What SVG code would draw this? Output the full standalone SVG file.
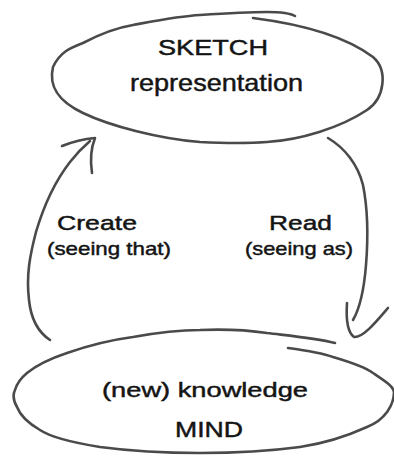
<svg xmlns="http://www.w3.org/2000/svg" width="394" height="456" viewBox="0 0 394 456">
<style>
.stroke{fill:none;stroke:#4a4a4a;stroke-width:2.6;stroke-linecap:round;stroke-linejoin:round}
.t{font-family:"Liberation Sans",Arial,sans-serif;fill:#141414;stroke:#141414;stroke-width:0.45;text-anchor:start}
</style>
<rect width="394" height="456" fill="#ffffff"/>
<g id="sketch">
<path class="stroke" d="M253,18 C300,24 345,36 373,57 C388,70 385,98 367,110 C340,128 300,140 267,142 C240,144 220,143 200,142 C160,139 110,126 83,113 C60,102 48,88 53,67 C60,52 70,48 83,43 C100,34 115,28 133,25 C160,20 180,16 200,15 C230,13 250,12 267,12 C280,12 290,13 295,16"/>
<text class="t" x="158" y="55" font-size="22.5" textLength="110" lengthAdjust="spacingAndGlyphs">SKETCH</text>
<text class="t" x="130" y="91" font-size="24" textLength="173" lengthAdjust="spacingAndGlyphs">representation</text>
</g>
<g id="mind">
<path class="stroke" d="M288,348 C310,351 322,353 333,357 C350,362 365,367 373,373 C385,381 393,386 394,392 C394,405 385,420 367,427 C345,437 320,444 300,447 C270,451 235,453 200,453 C165,453 130,451 100,447 C75,443 52,438 40,430 C28,423 20,415 17,407 C13,400 13,394 15,390 C17,383 21,378 27,373 C38,364 52,358 67,353 C90,345 110,340 133,337 C155,333 178,330 200,330 C225,329 247,330 267,333 C292,336 315,338 335,343"/>
<text class="t" x="102" y="397" font-size="21" textLength="206" lengthAdjust="spacingAndGlyphs">(new) knowledge</text>
<text class="t" x="175" y="437" font-size="21.5" textLength="68" lengthAdjust="spacingAndGlyphs">MIND</text>
</g>
<g id="connectors">
<g id="create">
<path class="stroke" d="M50,340 C38,332 31,320 29,300 C26,275 30,255 36,232 C44,205 56,180 70,162 C77,153 83,147 90,141"/>
<path class="stroke" d="M62,146 C72,142 84,139 95,138 C91,148 90,160 92,173"/>
</g>
<g id="read">
<path class="stroke" d="M328,138 C345,148 358,165 363,185 C368,210 368,240 366,265 C364,290 360,308 353,320"/>
<path class="stroke" d="M347,303 C346,318 347,332 354,337 C363,338 376,322 388,308"/>
</g>
</g>
<g id="labels">
<text class="t" x="57" y="229.5" font-size="20.5" textLength="80" lengthAdjust="spacingAndGlyphs">Create</text>
<text class="t" x="47" y="255" font-size="18.5" textLength="124" lengthAdjust="spacingAndGlyphs">(seeing that)</text>
<text class="t" x="269" y="230" font-size="20.5" textLength="63" lengthAdjust="spacingAndGlyphs">Read</text>
<text class="t" x="245" y="255" font-size="18.5" textLength="108" lengthAdjust="spacingAndGlyphs">(seeing as)</text>
</g>
</svg>
